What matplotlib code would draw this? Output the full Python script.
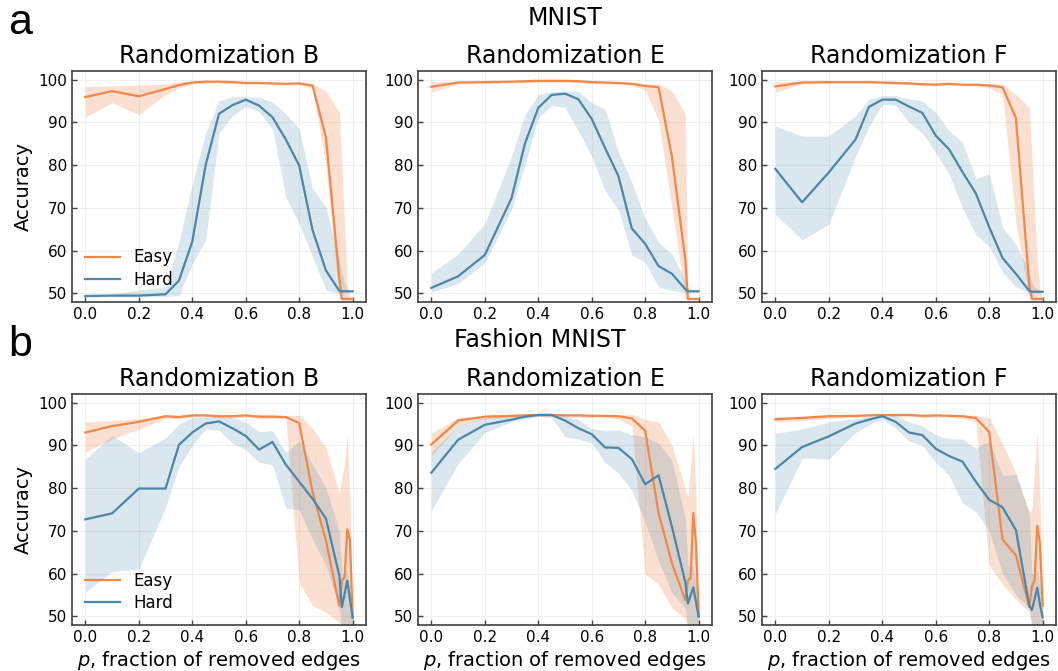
import numpy as np
import matplotlib
matplotlib.use("Agg")
import matplotlib.pyplot as plt

# --- data ---
p = [0.0, 0.1, 0.2, 0.3, 0.35, 0.4, 0.45, 0.5, 0.55, 0.6, 0.65, 0.7, 0.75,
     0.8, 0.85, 0.9, 0.95, 0.96, 0.97, 0.98, 0.99, 1.0]

# MNIST, randomization B
mnist_b_easy = [95.9, 97.3, 96.1, 97.8, 98.7, 99.3, 99.5, 99.5, 99.4, 99.2, 99.2, 99.1, 99.0, 99.1, 98.6, 86.5, 53.7, 48.7, 48.7, 48.7, 48.7, 48.7]
mnist_b_easy_lo = [91.2, 94.6, 91.8, 96.5, 98.0, 99.0, 99.2, 99.2, 99.1, 98.9, 98.9, 98.8, 98.7, 98.8, 98.0, 80.0, 48.7, 48.5, 48.5, 48.5, 48.5, 48.5]
mnist_b_easy_hi = [98.4, 98.5, 98.7, 99.0, 99.5, 99.6, 99.8, 99.8, 99.7, 99.5, 99.5, 99.4, 99.3, 99.4, 99.0, 97.3, 92.4, 80.0, 66.0, 52.0, 49.5, 49.0]
mnist_b_hard = [49.4, 49.5, 49.5, 49.8, 53.0, 62.1, 80.0, 92.0, 94.0, 95.3, 93.9, 91.2, 86.0, 79.9, 64.8, 55.4, 50.6, 50.5, 50.5, 50.5, 50.5, 50.5]
mnist_b_hard_lo = [49.2, 49.2, 49.2, 49.3, 49.5, 57.0, 62.4, 87.5, 91.5, 93.7, 92.5, 88.5, 72.6, 66.3, 58.6, 50.8, 50.0, 50.0, 50.1, 50.2, 50.3, 50.3]
mnist_b_hard_hi = [49.7, 49.9, 50.8, 51.5, 62.0, 75.5, 87.5, 95.0, 96.0, 96.0, 95.8, 94.8, 92.0, 88.5, 74.5, 70.2, 58.1, 54.8, 52.6, 50.8, 50.6, 50.5]

# MNIST, randomization E
mnist_e_easy = [98.3, 99.3, 99.4, 99.5, 99.6, 99.7, 99.7, 99.7, 99.6, 99.4, 99.3, 99.2, 99.0, 98.5, 98.2, 82.0, 58.0, 48.7, 48.7, 48.7, 48.7, 48.7]
mnist_e_easy_lo = [97.0, 99.0, 99.1, 99.2, 99.3, 99.4, 99.4, 99.4, 99.3, 99.1, 99.0, 98.9, 98.6, 97.5, 90.5, 70.0, 49.0, 48.5, 48.5, 48.5, 48.5, 48.5]
mnist_e_easy_hi = [99.5, 99.6, 99.7, 99.8, 99.8, 99.9, 99.9, 99.9, 99.8, 99.6, 99.5, 99.4, 99.3, 99.0, 99.0, 97.3, 92.0, 49.5, 49.0, 49.0, 49.0, 49.0]
mnist_e_hard = [51.3, 54.0, 59.0, 72.3, 85.0, 93.4, 96.4, 96.7, 95.4, 90.8, 84.0, 77.4, 65.2, 61.6, 56.4, 54.6, 51.0, 50.5, 50.5, 50.5, 50.5, 50.5]
mnist_e_hard_lo = [50.3, 52.3, 57.2, 69.6, 80.0, 91.1, 93.9, 93.5, 88.0, 82.0, 74.0, 69.5, 59.0, 57.3, 51.5, 50.7, 50.2, 50.2, 50.2, 50.3, 50.3, 50.3]
mnist_e_hard_hi = [54.8, 59.2, 66.3, 82.0, 91.8, 96.5, 97.2, 97.3, 97.2, 94.6, 93.1, 83.0, 76.0, 67.5, 62.0, 59.2, 53.0, 51.5, 51.0, 50.8, 50.6, 50.5]

# MNIST, randomization F
mnist_f_easy = [98.4, 99.3, 99.4, 99.4, 99.4, 99.3, 99.2, 99.1, 98.9, 98.8, 99.0, 98.8, 98.8, 98.6, 98.2, 91.0, 52.0, 48.7, 48.7, 48.7, 48.7, 48.7]
mnist_f_easy_lo = [97.0, 99.0, 99.1, 99.1, 99.1, 99.0, 98.9, 98.8, 98.6, 98.5, 98.7, 98.5, 98.5, 98.0, 96.5, 66.5, 49.0, 48.5, 48.5, 48.5, 48.5, 48.5]
mnist_f_easy_hi = [99.5, 99.6, 99.7, 99.7, 99.7, 99.6, 99.5, 99.4, 99.2, 99.1, 99.3, 99.1, 99.1, 99.0, 99.0, 96.5, 93.5, 82.0, 70.0, 58.0, 50.5, 49.0]
mnist_f_hard = [79.1, 71.3, 78.3, 86.0, 93.6, 95.3, 95.3, 93.7, 92.2, 86.9, 83.7, 78.4, 73.4, 65.5, 58.3, 54.6, 50.6, 50.4, 50.4, 50.4, 50.4, 50.4]
mnist_f_hard_lo = [68.5, 62.5, 66.2, 82.0, 89.0, 94.2, 94.0, 90.0, 87.5, 82.8, 78.0, 70.0, 63.8, 61.0, 55.0, 51.5, 50.3, 50.2, 50.2, 50.2, 50.3, 50.3]
mnist_f_hard_hi = [89.1, 86.8, 86.8, 91.5, 95.4, 96.2, 96.2, 95.5, 95.0, 92.3, 88.0, 85.3, 76.8, 78.0, 65.5, 61.5, 55.0, 52.5, 51.5, 51.0, 50.7, 50.5]

# Fashion MNIST, randomization B
fashion_b_easy = [93.0, 94.5, 95.5, 96.8, 96.6, 97.0, 97.0, 96.8, 96.8, 97.0, 96.7, 96.7, 96.6, 95.2, 79.1, 67.8, 52.5, 58.4, 59.2, 70.4, 67.8, 49.7]
fashion_b_easy_lo = [88.5, 91.5, 93.8, 96.3, 96.2, 96.6, 96.6, 96.4, 96.4, 96.6, 96.3, 96.3, 96.2, 58.0, 52.5, 51.0, 48.5, 47.0, 47.0, 47.0, 47.0, 47.0]
fashion_b_easy_hi = [95.5, 95.8, 96.2, 97.1, 97.1, 97.3, 97.3, 97.2, 97.2, 97.3, 97.1, 97.1, 97.0, 97.0, 94.0, 89.5, 79.0, 82.5, 86.0, 92.5, 78.0, 50.0]
fashion_b_hard = [72.7, 74.1, 79.9, 79.9, 90.1, 93.0, 95.1, 95.6, 94.0, 92.2, 89.0, 90.8, 85.5, 81.5, 77.5, 72.9, 59.6, 52.2, 55.3, 58.4, 54.0, 49.7]
fashion_b_hard_lo = [55.7, 60.5, 61.0, 75.5, 85.0, 90.0, 93.8, 93.5, 90.5, 89.0, 86.0, 85.5, 75.3, 75.0, 68.0, 62.0, 52.0, 46.0, 46.0, 47.0, 47.0, 48.0]
fashion_b_hard_hi = [86.8, 92.3, 88.3, 91.7, 95.0, 96.5, 96.5, 96.8, 96.5, 95.5, 93.2, 93.4, 88.3, 91.0, 85.5, 80.0, 70.0, 60.0, 60.0, 61.0, 57.0, 51.0]

# Fashion MNIST, randomization E
fashion_e_easy = [90.2, 95.8, 96.7, 96.9, 97.0, 97.1, 97.1, 97.0, 97.0, 96.9, 96.9, 96.8, 96.3, 93.4, 74.2, 62.5, 53.8, 58.5, 59.0, 74.2, 67.0, 50.0]
fashion_e_easy_lo = [87.5, 94.5, 96.2, 96.5, 96.6, 96.7, 96.7, 96.6, 96.6, 96.5, 96.4, 96.2, 94.5, 60.0, 57.5, 52.0, 49.5, 48.0, 47.5, 47.5, 47.5, 47.5]
fashion_e_easy_hi = [92.8, 96.5, 97.0, 97.2, 97.3, 97.4, 97.4, 97.3, 97.3, 97.2, 97.2, 97.2, 97.2, 96.0, 95.5, 90.0, 80.0, 78.0, 85.0, 92.5, 78.0, 50.0]
fashion_e_hard = [83.6, 91.3, 94.8, 96.0, 96.7, 97.1, 97.1, 95.8, 94.0, 92.6, 89.5, 89.4, 86.8, 80.9, 83.0, 71.0, 58.0, 53.0, 54.9, 56.8, 53.4, 50.0]
fashion_e_hard_lo = [74.8, 85.7, 93.0, 95.5, 96.2, 96.8, 96.5, 92.0, 91.5, 90.5, 86.0, 83.5, 79.5, 72.0, 63.0, 55.5, 52.0, 46.0, 46.0, 47.0, 47.5, 48.5]
fashion_e_hard_hi = [88.5, 94.5, 96.5, 97.0, 97.3, 97.5, 97.5, 96.8, 96.0, 93.9, 93.5, 93.6, 92.5, 92.0, 90.5, 86.5, 73.0, 62.0, 61.0, 62.0, 57.0, 51.0]

# Fashion MNIST, randomization F
fashion_f_easy = [96.1, 96.4, 96.8, 96.9, 97.0, 97.1, 97.1, 97.1, 96.9, 97.0, 96.9, 96.8, 96.4, 93.1, 68.0, 64.3, 52.2, 57.0, 58.5, 71.2, 67.0, 52.5]
fashion_f_easy_lo = [95.5, 95.8, 96.3, 96.5, 96.6, 96.7, 96.7, 96.7, 96.5, 96.6, 96.5, 96.3, 95.5, 62.0, 57.5, 54.0, 51.0, 48.5, 48.0, 48.0, 48.0, 48.0]
fashion_f_easy_hi = [96.6, 96.9, 97.2, 97.2, 97.3, 97.4, 97.4, 97.4, 97.2, 97.3, 97.2, 97.1, 97.0, 96.5, 90.5, 83.5, 74.3, 75.0, 85.0, 93.0, 78.0, 52.5]
fashion_f_hard = [84.5, 89.6, 92.1, 95.1, 96.0, 96.8, 95.5, 93.0, 92.4, 89.2, 87.5, 86.2, 81.5, 77.3, 75.5, 70.2, 52.5, 51.5, 54.1, 56.7, 52.8, 49.8]
fashion_f_hard_lo = [74.0, 87.0, 86.8, 93.0, 94.8, 96.2, 94.0, 91.0, 90.0, 86.0, 83.0, 76.5, 74.5, 70.0, 60.0, 55.0, 52.0, 46.0, 46.0, 47.0, 47.5, 48.5]
fashion_f_hard_hi = [92.8, 93.8, 95.5, 96.2, 96.6, 97.0, 97.0, 95.5, 94.5, 92.5, 91.5, 91.5, 89.3, 91.0, 83.0, 83.2, 74.0, 60.0, 60.0, 61.0, 57.0, 51.0]

titles = ["Randomization B", "Randomization E", "Randomization F"]
row_titles = ["MNIST", "Fashion MNIST"]
panel_letters = ["a", "b"]
x_ticks = [0.0, 0.2, 0.4, 0.6, 0.8, 1.0]
y_ticks = [50, 60, 70, 80, 90, 100]

panels = [
    [(mnist_b_easy, mnist_b_easy_lo, mnist_b_easy_hi, mnist_b_hard, mnist_b_hard_lo, mnist_b_hard_hi),
     (mnist_e_easy, mnist_e_easy_lo, mnist_e_easy_hi, mnist_e_hard, mnist_e_hard_lo, mnist_e_hard_hi),
     (mnist_f_easy, mnist_f_easy_lo, mnist_f_easy_hi, mnist_f_hard, mnist_f_hard_lo, mnist_f_hard_hi)],
    [(fashion_b_easy, fashion_b_easy_lo, fashion_b_easy_hi, fashion_b_hard, fashion_b_hard_lo, fashion_b_hard_hi),
     (fashion_e_easy, fashion_e_easy_lo, fashion_e_easy_hi, fashion_e_hard, fashion_e_hard_lo, fashion_e_hard_hi),
     (fashion_f_easy, fashion_f_easy_lo, fashion_f_easy_hi, fashion_f_hard, fashion_f_hard_lo, fashion_f_hard_hi)],
]

c_easy = "#f2874a"
c_hard = "#4a87aa"
spine_col = "#404040"

W, H = 1058, 671
fig = plt.figure(figsize=(W / 100, H / 100), dpi=100)

lefts = [72, 418, 762]
tops = [71, 394]
aw, ah = 294, 231

for r in range(2):
    for c in range(3):
        ax = fig.add_axes([lefts[c] / W, 1 - (tops[r] + ah) / H, aw / W, ah / H])
        easy, elo, ehi, hard, hlo, hhi = panels[r][c]
        ax.fill_between(p, elo, ehi, color=c_easy, alpha=0.25, lw=0)
        ax.fill_between(p, hlo, hhi, color=c_hard, alpha=0.2, lw=0)
        ax.plot(p, easy, color=c_easy, lw=1.6, label="Easy")
        ax.plot(p, hard, color=c_hard, lw=1.6, label="Hard")
        ax.set_xlim(-0.05, 1.05)
        ax.set_ylim(48, 102)
        ax.set_xticks(x_ticks)
        ax.set_yticks(y_ticks)
        ax.grid(color="#efefef", lw=0.8)
        ax.set_axisbelow(True)
        ax.tick_params(direction="in", labelsize=11, color=spine_col, width=1.0, length=3.5)
        for s in ax.spines.values():
            s.set_color(spine_col)
            s.set_linewidth(1.2)
        ax.set_title(titles[c], fontsize=17)
        if c == 0:
            ax.set_ylabel("Accuracy", fontsize=14)
            ax.legend(loc="lower left", frameon=False, fontsize=12,
                      borderaxespad=0.4, handlelength=2.1, labelspacing=0.25)
        if r == 1:
            ax.set_xlabel("$p$, fraction of removed edges", fontsize=14, labelpad=3)

fig.text(565 / W, 1 - 18 / H, row_titles[0], fontsize=17, ha="center", va="center")
fig.text(540 / W, 1 - 340 / H, row_titles[1], fontsize=17, ha="center", va="center")
fig.text(8 / W, 1 - 34 / H, panel_letters[0], fontsize=31, family="Liberation Sans", ha="left", va="baseline")
fig.text(8 / W, 1 - 356 / H, panel_letters[1], fontsize=31, family="Liberation Sans", ha="left", va="baseline")

fig.savefig("out.png", dpi=100)
